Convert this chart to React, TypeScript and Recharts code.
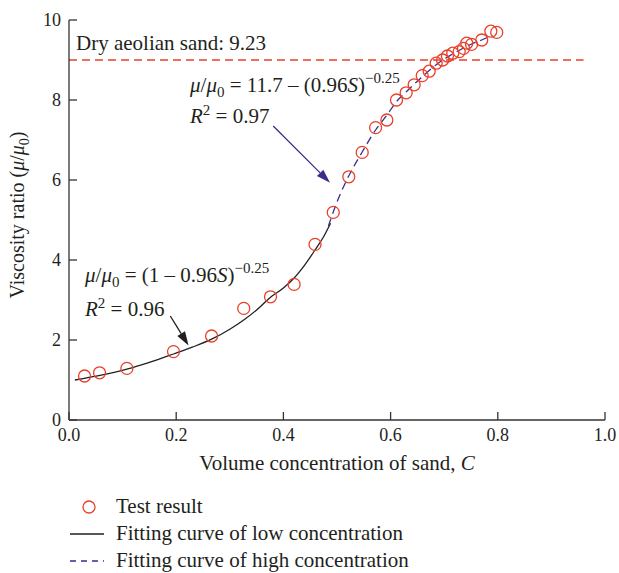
import React from 'react';
import {
  ComposedChart,
  Scatter,
  Line,
  XAxis,
  YAxis,
  ReferenceLine,
  Legend,
} from 'recharts';

// measured points
const testX = [0.029, 0.057, 0.108, 0.195, 0.266, 0.326, 0.376, 0.42, 0.459, 0.493, 0.522, 0.547, 0.572, 0.593, 0.611, 0.629, 0.644, 0.659, 0.672, 0.685, 0.697, 0.706, 0.716, 0.728, 0.736, 0.742, 0.751, 0.77, 0.787, 0.798];
const testY = [1.1, 1.18, 1.29, 1.71, 2.1, 2.79, 3.08, 3.39, 4.39, 5.19, 6.08, 6.69, 7.31, 7.5, 8.0, 8.18, 8.38, 8.61, 8.72, 8.92, 9.0, 9.1, 9.17, 9.21, 9.29, 9.42, 9.39, 9.5, 9.72, 9.69];

// fitted curve, low concentration
const lowX = [0.011, 0.06, 0.108, 0.15, 0.195, 0.23, 0.266, 0.3, 0.326, 0.35, 0.376, 0.4, 0.42, 0.44, 0.459, 0.475, 0.488];
const lowY = [1.0, 1.12, 1.27, 1.44, 1.65, 1.82, 2.02, 2.27, 2.5, 2.75, 3.07, 3.3, 3.55, 3.88, 4.25, 4.58, 4.92];

// fitted curve, high concentration
const highX = [0.484, 0.5, 0.52, 0.547, 0.572, 0.593, 0.611, 0.629, 0.644, 0.659, 0.672, 0.685, 0.697, 0.716, 0.736, 0.751, 0.77, 0.79];
const highY = [4.85, 5.45, 6.05, 6.7, 7.25, 7.62, 7.96, 8.2, 8.4, 8.58, 8.74, 8.88, 9.0, 9.15, 9.3, 9.4, 9.5, 9.62];

const xTicks = [0, 0.2, 0.4, 0.6, 0.8, 1.0];
const yTicks = [0, 2, 4, 6, 8, 10];

const dryLevel = 9.0;
const dryEnd = 0.96;
const dryLabel = 'Dry aeolian sand: 9.23';

const highArrow = [{ x: 0.381, y: 7.35 }, { x: 0.487, y: 5.93 }];
const lowArrow = [{ x: 0.189, y: 2.6 }, { x: 0.223, y: 1.86 }];

const testData = testX.map((x, i) => ({ x, y: testY[i] }));
const lowData = lowX.map((x, i) => ({ x, y: lowY[i] }));
const highData = highX.map((x, i) => ({ x, y: highY[i] }));

const RED = '#e8402a';
const BLUE = '#3a2d8c';
const INK = '#231f20';
const FONT = '"Liberation Serif", "Times New Roman", serif';

const ring = (p: any) => (
  <circle cx={p.cx} cy={p.cy} r={6} fill="none" stroke={RED} strokeWidth={1.3} />
);

const arrow = (color: string) => (p: any) => {
  const { x1, y1, x2, y2 } = p;
  const a = Math.atan2(y2 - y1, x2 - x1);
  const len = 14;
  const w = 4.5;
  const bx = x2 - len * Math.cos(a);
  const by = y2 - len * Math.sin(a);
  const pts = [
    `${x2},${y2}`,
    `${bx - w * Math.sin(a)},${by + w * Math.cos(a)}`,
    `${bx + w * Math.sin(a)},${by - w * Math.cos(a)}`,
  ].join(' ');
  return (
    <g>
      <line x1={x1} y1={y1} x2={bx} y2={by} stroke={color} strokeWidth={1.3} />
      <polygon points={pts} fill={color} />
    </g>
  );
};

const renderLegend = () => (
  <div style={{ fontFamily: FONT, fontSize: 21, color: INK, lineHeight: '27px' }}>
    <div style={{ display: 'flex', alignItems: 'center' }}>
      <svg width={54} height={27}>
        <circle cx={27} cy={14} r={6} fill="none" stroke={RED} strokeWidth={1.3} />
      </svg>
      <span>Test result</span>
    </div>
    <div style={{ display: 'flex', alignItems: 'center' }}>
      <svg width={54} height={27}>
        <line x1={8} y1={14} x2={42} y2={14} stroke={INK} strokeWidth={1.3} />
      </svg>
      <span>Fitting curve of low concentration</span>
    </div>
    <div style={{ display: 'flex', alignItems: 'center' }}>
      <svg width={54} height={27}>
        <line x1={8} y1={14} x2={42} y2={14} stroke={BLUE} strokeWidth={1.3} strokeDasharray="6 5" />
      </svg>
      <span>Fitting curve of high concentration</span>
    </div>
  </div>
);

const App = () => {
  return (
    <div style={{ position: 'absolute', left: 0, top: 0, width: 619, height: 573, background: '#fff', fontFamily: FONT }}>
      <ComposedChart width={619} height={573} margin={{ top: 20, right: 14, bottom: 103, left: 19 }}>
        <XAxis
          type="number"
          dataKey="x"
          domain={[0, 1]}
          ticks={xTicks}
          tickFormatter={(v: number) => v.toFixed(1)}
          height={50}
          tickSize={-8}
          tickMargin={16}
          axisLine={{ stroke: '#333', strokeWidth: 1.3 }}
          tickLine={{ stroke: '#333', strokeWidth: 1.3 }}
          tick={{ fill: INK, fontSize: 18 }}
          allowDataOverflow
        />
        <YAxis
          type="number"
          dataKey="y"
          domain={[0, 10]}
          ticks={yTicks}
          width={50}
          tickSize={-8}
          tickMargin={16}
          axisLine={{ stroke: '#333', strokeWidth: 1.3 }}
          tickLine={{ stroke: '#333', strokeWidth: 1.3 }}
          tick={{ fill: INK, fontSize: 18 }}
          allowDataOverflow
        />
        <ReferenceLine
          segment={[{ x: 0, y: dryLevel }, { x: dryEnd, y: dryLevel }]}
          stroke={RED}
          strokeWidth={1.3}
          strokeDasharray="8 5"
        />
        <Line data={lowData} dataKey="y" type="monotone" stroke={INK} strokeWidth={1.3} dot={false} isAnimationActive={false} />
        <Line data={highData} dataKey="y" type="monotone" stroke={BLUE} strokeWidth={1.3} strokeDasharray="8 5" dot={false} isAnimationActive={false} />
        <Scatter data={testData} dataKey="y" shape={ring} isAnimationActive={false} />
        <ReferenceLine segment={highArrow} shape={arrow(BLUE)} />
        <ReferenceLine segment={lowArrow} shape={arrow(INK)} />
        <Legend
          layout="vertical"
          align="center"
          verticalAlign="middle"
          wrapperStyle={{ left: 62, top: 493, width: 440 }}
          content={renderLegend}
        />
        <text x={76} y={50} fontSize={21} fill={INK}>{dryLabel}</text>
        <text x={190} y={92} fontSize={21} fill={INK}>
          <tspan fontStyle="italic">μ</tspan>
          <tspan>/</tspan>
          <tspan fontStyle="italic">μ</tspan>
          <tspan dy={5} fontSize={15}>0</tspan>
          <tspan dy={-5}> = 11.7 – (0.96</tspan>
          <tspan fontStyle="italic">S</tspan>
          <tspan>)</tspan>
          <tspan dy={-9} fontSize={15}>−0.25</tspan>
        </text>
        <text x={190} y={123} fontSize={21} fill={INK}>
          <tspan fontStyle="italic">R</tspan>
          <tspan dy={-8} fontSize={15}>2</tspan>
          <tspan dy={8}> = 0.97</tspan>
        </text>
        <text x={85} y={282} fontSize={21} fill={INK}>
          <tspan fontStyle="italic">μ</tspan>
          <tspan>/</tspan>
          <tspan fontStyle="italic">μ</tspan>
          <tspan dy={5} fontSize={15}>0</tspan>
          <tspan dy={-5}> = (1 – 0.96</tspan>
          <tspan fontStyle="italic">S</tspan>
          <tspan>)</tspan>
          <tspan dy={-9} fontSize={15}>−0.25</tspan>
        </text>
        <text x={85} y={316} fontSize={21} fill={INK}>
          <tspan fontStyle="italic">R</tspan>
          <tspan dy={-8} fontSize={15}>2</tspan>
          <tspan dy={8}> = 0.96</tspan>
        </text>
        <text x={337} y={470} fontSize={21} fill={INK} textAnchor="middle">
          <tspan>Volume concentration of sand, </tspan>
          <tspan fontStyle="italic">C</tspan>
        </text>
        <text x={24} y={215} fontSize={20} fill={INK} textAnchor="middle" transform="rotate(-90 24 215)">
          <tspan>Viscosity ratio (</tspan>
          <tspan fontStyle="italic">μ</tspan>
          <tspan>/</tspan>
          <tspan fontStyle="italic">μ</tspan>
          <tspan dy={5} fontSize={14}>0</tspan>
          <tspan dy={-5}>)</tspan>
        </text>
      </ComposedChart>
    </div>
  );
};

export default App;
